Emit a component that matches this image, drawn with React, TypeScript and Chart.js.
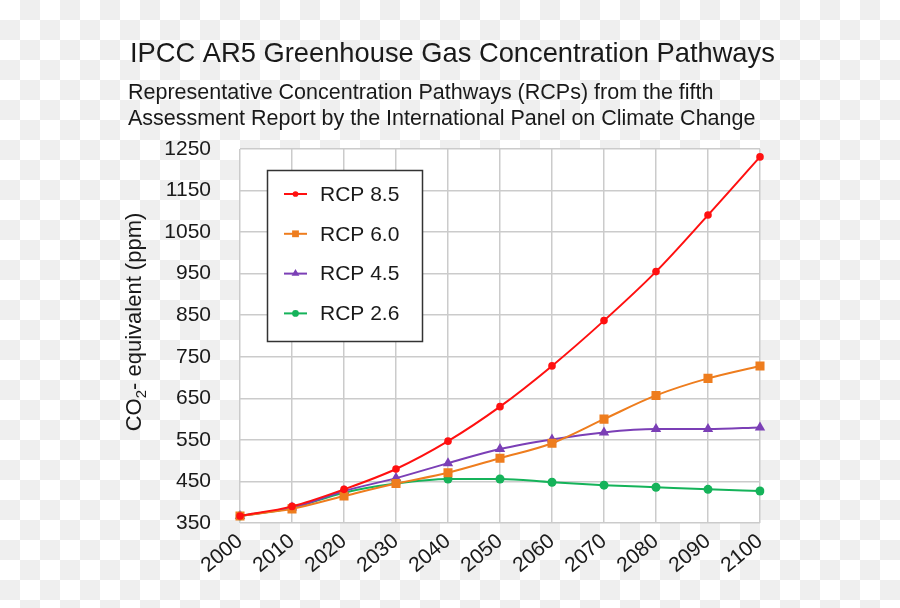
import React, { useEffect, useRef } from 'react';
import { Chart, registerables } from 'chart.js';

Chart.register(...registerables);

const titleText = 'IPCC AR5 Greenhouse Gas Concentration Pathways';
const subtitleLines = [
  'Representative Concentration Pathways (RCPs) from the fifth',
  'Assessment Report by the International Panel on Climate Change',
];
const yTitleParts = ['CO', '2', '- equivalent (ppm)'];

const years = ['2000', '2010', '2020', '2030', '2040', '2050', '2060', '2070', '2080', '2090', '2100'];
const seriesNames = ['RCP 8.5', 'RCP 6.0', 'RCP 4.5', 'RCP 2.6'];
const rcp85 = [367, 390, 431, 480, 547, 630, 728, 837, 955, 1091, 1231];
const rcp60 = [367, 384, 415, 445, 471, 506, 542, 600, 657, 698, 728];
const rcp45 = [367, 387, 427, 458, 494, 528, 551, 568, 576, 576, 580];
const rcp26 = [367, 386, 423, 445, 456, 456, 448, 441, 436, 431, 427];

const yMin = 350;
const yMax = 1250;
const yStep = 100;

const FONT = '"Liberation Sans", Arial, sans-serif';
const TEXT = '#1a1a1a';

const colors = ['#ff1010', '#ee7d1e', '#7b3fb6', '#15b35a'];
const pointStyles = ['circle', 'rect', 'triangle', 'circle'];
const pointRadii = [3.8, 6.4, 6, 4.5];

function drawMarker(ctx: CanvasRenderingContext2D, style: string, x: number, y: number, r: number, color: string) {
  ctx.save();
  ctx.fillStyle = color;
  ctx.beginPath();
  if (style === 'rect') {
    const s = Math.SQRT1_2 * r;
    ctx.rect(x - s, y - s, 2 * s, 2 * s);
  } else if (style === 'triangle') {
    ctx.moveTo(x, y - r);
    ctx.lineTo(x + r * 0.866, y + r * 0.5);
    ctx.lineTo(x - r * 0.866, y + r * 0.5);
    ctx.closePath();
  } else {
    ctx.arc(x, y, r, 0, Math.PI * 2);
  }
  ctx.fill();
  ctx.restore();
}

const decorPlugin = {
  id: 'decor',
  beforeDraw(chart: any) {
    const { ctx, chartArea } = chart;
    ctx.save();
    ctx.fillStyle = '#ffffff';
    ctx.fillRect(chartArea.left, chartArea.top, chartArea.right - chartArea.left, chartArea.bottom - chartArea.top);
    ctx.restore();
  },
  afterDraw(chart: any) {
    const { ctx } = chart;
    ctx.save();
    ctx.fillStyle = TEXT;
    ctx.textAlign = 'left';
    ctx.textBaseline = 'alphabetic';
    ctx.font = `27.3px ${FONT}`;
    ctx.fillText(titleText, 130, 62);
    ctx.font = `21.5px ${FONT}`;
    ctx.fillText(subtitleLines[0], 128, 99);
    ctx.fillText(subtitleLines[1], 128, 125);

    ctx.save();
    ctx.translate(135, 322);
    ctx.rotate(-Math.PI / 2);
    const big = `22px ${FONT}`;
    const small = `15px ${FONT}`;
    ctx.font = big;
    const w0 = ctx.measureText(yTitleParts[0]).width;
    const w2 = ctx.measureText(yTitleParts[2]).width;
    ctx.font = small;
    const w1 = ctx.measureText(yTitleParts[1]).width;
    let x = -(w0 + w1 + w2) / 2;
    ctx.textBaseline = 'middle';
    ctx.font = big;
    ctx.fillText(yTitleParts[0], x, 0);
    x += w0;
    ctx.font = small;
    ctx.fillText(yTitleParts[1], x, 7);
    x += w1;
    ctx.font = big;
    ctx.fillText(yTitleParts[2], x, 0);
    ctx.restore();

    const bx = 267.5, by = 170.5, bw = 155, bh = 171;
    ctx.fillStyle = '#ffffff';
    ctx.fillRect(bx, by, bw, bh);
    ctx.strokeStyle = '#333333';
    ctx.lineWidth = 1.5;
    ctx.strokeRect(bx, by, bw, bh);
    chart.data.datasets.forEach((ds: any, i: number) => {
      const y = 194 + i * 39.8;
      ctx.strokeStyle = ds.borderColor;
      ctx.lineWidth = 2;
      ctx.beginPath();
      ctx.moveTo(284, y);
      ctx.lineTo(307, y);
      ctx.stroke();
      drawMarker(ctx, ds.pointStyle, 295.5, y, ds.pointRadius * 0.75, ds.borderColor);
      ctx.fillStyle = TEXT;
      ctx.font = `21px ${FONT}`;
      ctx.textBaseline = 'middle';
      ctx.fillText(ds.label, 320, y + 1);
    });
    ctx.restore();
  },
};

export default function App() {
  const ref = useRef<HTMLCanvasElement | null>(null);
  useEffect(() => {
    if (!ref.current) return;
    const seriesData = [rcp85, rcp60, rcp45, rcp26];
    const chart = new Chart(ref.current, {
      type: 'line',
      data: {
        labels: years,
        datasets: seriesData.map((d, i) => ({
          label: seriesNames[i],
          data: d,
          borderColor: colors[i],
          backgroundColor: colors[i],
          pointBackgroundColor: colors[i],
          pointBorderColor: colors[i],
          pointStyle: pointStyles[i] as any,
          pointRadius: pointRadii[i],
          pointBorderWidth: 0,
          borderWidth: 2,
          cubicInterpolationMode: 'monotone' as const,
          fill: false,
        })),
      },
      options: {
        animation: false,
        responsive: false,
        devicePixelRatio: 1,
        layout: { padding: { left: 0, top: 149, right: 140, bottom: 0 } },
        plugins: {
          legend: { display: false },
          title: { display: false },
          tooltip: { enabled: false },
        },
        scales: {
          x: {
            type: 'category',
            offset: false,
            grid: { color: '#cbcbcb', lineWidth: 1.5, drawTicks: false },
            border: { display: false },
            ticks: {
              color: TEXT,
              font: { family: FONT, size: 21 },
              maxRotation: 40,
              minRotation: 40,
              padding: 6,
            },
            afterFit(scale: any) {
              scale.height = 85;
            },
          },
          y: {
            type: 'linear',
            min: yMin,
            max: yMax,
            grid: { color: '#cbcbcb', lineWidth: 1.5, drawTicks: false },
            border: { display: false },
            ticks: {
              stepSize: yStep,
              color: TEXT,
              font: { family: FONT, size: 21 },
              padding: 29,
              callback: (v: any) => String(v),
            },
            afterFit(scale: any) {
              scale.width = 240;
            },
          },
        },
      },
      plugins: [decorPlugin],
    });
    return () => chart.destroy();
  }, []);
  return (
    <div
      style={{
        position: 'absolute',
        left: 0,
        top: 0,
        width: 900,
        height: 608,
        backgroundColor: '#ffffff',
        backgroundImage: 'conic-gradient(#efefef 25%, #ffffff 0 50%, #efefef 0 75%, #ffffff 0)',
        backgroundSize: '40px 40px',
      }}
    >
      <canvas ref={ref} width={900} height={608} style={{ display: 'block', width: 900, height: 608 }} />
    </div>
  );
}
